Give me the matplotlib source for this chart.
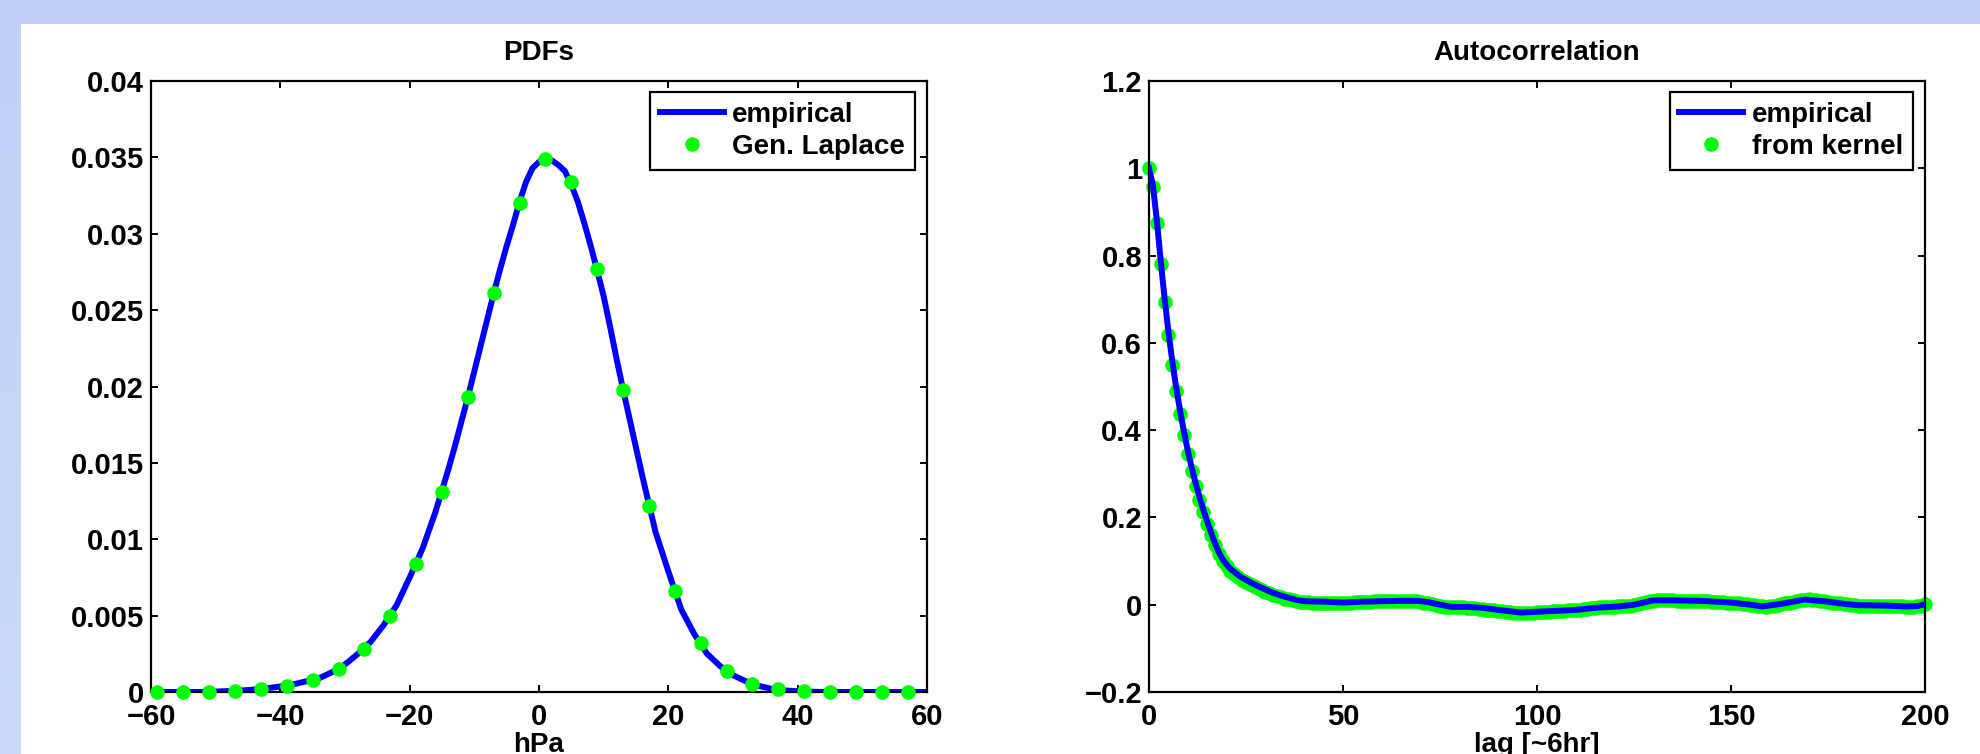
import numpy as np
import matplotlib
matplotlib.use("agg")
import matplotlib.pyplot as plt
from matplotlib.patches import Rectangle

plt.rcParams["font.family"] = ["Liberation Sans", "DejaVu Sans"]
plt.rcParams["font.weight"] = "bold"
plt.rcParams["axes.titleweight"] = "bold"
plt.rcParams["axes.labelweight"] = "bold"

# --- pressure-change PDF (hPa) ---
pdf_x = [
    -60, -58, -56, -54, -52, -50, -48, -46, -44, -42, -40, -38, -36, -34, -32,
    -30, -28, -26, -24, -22, -20, -18, -16, -14,
    -13, -12, -11, -10, -9, -8, -7, -6, -5, -4, -3, -2, -1, 0,
    1, 2, 3, 4, 5, 6, 7, 8, 9, 10, 11, 12, 13, 14, 15,
    16, 18, 20, 22, 24, 26, 28, 30, 32, 34, 36, 38, 40, 42, 44,
    46, 48, 50, 52, 54, 56, 58, 60,
]
pdf_empirical = [
    0.0, 0.0, 0.0, 0.0, 0.0, 0.00003, 0.00006, 0.0001, 0.00016, 0.00025,
    0.00036, 0.0005, 0.0007, 0.0009, 0.0013,
    0.0018, 0.0025, 0.0033, 0.0044, 0.0057, 0.0075, 0.0094, 0.0118, 0.0146,
    0.0161, 0.0177, 0.0193, 0.0210, 0.0227, 0.0244, 0.0261, 0.0277, 0.0292,
    0.0306, 0.0321, 0.0334, 0.0343, 0.0347,
    0.0349, 0.0348, 0.0345, 0.0341, 0.0332, 0.0321, 0.0307, 0.0292, 0.0276,
    0.0259, 0.0239, 0.0218, 0.0198, 0.0179, 0.0160,
    0.0141, 0.0105, 0.0079, 0.0054, 0.0038, 0.0025, 0.0017, 0.0011, 0.0007,
    0.0004, 0.0002, 0.0001, 0.00005, 0.00002, 0.0,
    0.0, 0.0, 0.0, 0.0, 0.0, 0.0, 0.0, 0.0,
]
laplace_x = np.arange(-59, 58, 4)
laplace_pdf = [
    0.0, 0.0, 0.0, 0.00007, 0.0002, 0.0004, 0.0008, 0.0015, 0.0028, 0.0050,
    0.00835, 0.0131, 0.0193, 0.0261, 0.0320, 0.0349, 0.0334, 0.0277, 0.0198, 0.0122,
    0.0066, 0.0032, 0.00135, 0.00054, 0.00022, 0.00006, 0.00002, 0.0, 0.0, 0.0,
]

# --- autocorrelation, lag in 6-hour steps ---
acf_lag = [
    0, 1, 2, 3, 4, 5, 6, 7, 8, 9, 10, 11, 12, 13, 14, 15, 16, 17, 18, 19, 20,
    21, 22, 23, 24, 26, 28, 30, 32, 34, 36, 38, 40, 45, 50, 55, 60, 65, 69, 72,
    75, 78, 82, 86, 90, 96, 100, 105, 110, 115, 121, 125, 130, 135, 142, 150,
    155, 158, 163, 169, 175, 180, 183, 190, 195, 198, 200,
]
acf_empirical = [
    1.000, 0.962, 0.882, 0.790, 0.703, 0.626, 0.558, 0.498, 0.445, 0.397, 0.353,
    0.314, 0.279, 0.247, 0.218, 0.191, 0.165, 0.141, 0.120, 0.104, 0.092,
    0.082, 0.075, 0.068, 0.062, 0.052, 0.043, 0.035, 0.027, 0.021, 0.016, 0.011,
    0.008, 0.007, 0.005, 0.007, 0.008, 0.009, 0.009, 0.006,
    0.000, -0.005, -0.005, -0.007, -0.012, -0.018, -0.016, -0.014, -0.012, -0.007,
    -0.004, 0.000, 0.010, 0.010, 0.009, 0.005,
    0.000, -0.004, 0.002, 0.012, 0.007, 0.001, -0.001, -0.002, -0.004, -0.003, 0.001,
]
kernel_lag = np.arange(0, 201)
acf_kernel = [
    1.000, 0.957, 0.875, 0.781, 0.694, 0.617, 0.550, 0.490, 0.437, 0.390,
    0.346, 0.307, 0.272, 0.241, 0.212, 0.185, 0.160, 0.137, 0.117, 0.101,
    0.088, 0.078, 0.070, 0.063, 0.057, 0.052, 0.047, 0.042, 0.038, 0.034,
    0.030, 0.026, 0.023, 0.020, 0.017, 0.014, 0.012, 0.010, 0.008, 0.007,
    0.006, 0.006, 0.005, 0.005, 0.005, 0.005, 0.004, 0.004, 0.004, 0.004,
    0.004, 0.005, 0.005, 0.006, 0.006, 0.007, 0.007, 0.007, 0.008, 0.008,
    0.008, 0.008, 0.009, 0.009, 0.009, 0.009, 0.009, 0.009, 0.009, 0.008,
    0.007, 0.005, 0.003, 0.001, -0.001, -0.003, -0.005, -0.006, -0.006, -0.006,
    -0.006, -0.006, -0.007, -0.007, -0.008, -0.009, -0.010, -0.011, -0.012, -0.013,
    -0.014, -0.015, -0.016, -0.017, -0.018, -0.019, -0.019, -0.019, -0.018, -0.018,
    -0.017, -0.017, -0.016, -0.016, -0.015, -0.015, -0.014, -0.014, -0.013, -0.013,
    -0.012, -0.011, -0.010, -0.009, -0.008, -0.007, -0.006, -0.006, -0.005, -0.005,
    -0.005, -0.004, -0.004, -0.003, -0.002, 0.000, 0.002, 0.004, 0.006, 0.008,
    0.009, 0.010, 0.010, 0.010, 0.010, 0.010, 0.009, 0.009, 0.009, 0.009,
    0.009, 0.009, 0.009, 0.008, 0.008, 0.007, 0.007, 0.006, 0.006, 0.005,
    0.005, 0.004, 0.003, 0.002, 0.001, 0.000, -0.001, -0.003, -0.004, -0.005,
    -0.004, -0.002, 0.000, 0.002, 0.004, 0.005, 0.007, 0.009, 0.010, 0.011,
    0.012, 0.011, 0.010, 0.009, 0.008, 0.007, 0.005, 0.004, 0.003, 0.002,
    0.001, 0.000, -0.001, -0.002, -0.002, -0.002, -0.002, -0.002, -0.002, -0.002,
    -0.002, -0.002, -0.003, -0.003, -0.004, -0.005, -0.005, -0.005, -0.004, -0.002,
    0.002,
]

pdf_yticks = [0, 0.005, 0.01, 0.015, 0.02, 0.025, 0.03, 0.035, 0.04]
pdf_ylabels = ["0", "0.005", "0.01", "0.015", "0.02", "0.025", "0.03", "0.035", "0.04"]
pdf_xticks = [-60, -40, -20, 0, 20, 40, 60]
acf_yticks = [-0.2, 0, 0.2, 0.4, 0.6, 0.8, 1, 1.2]
acf_ylabels = ["\u22120.2", "0", "0.2", "0.4", "0.6", "0.8", "1", "1.2"]
acf_xticks = [0, 50, 100, 150, 200]

BLUE = "#0000ff"
GREEN = "#00ff00"
FS = 20
TICK_FS = 21

fig = plt.figure(figsize=(19.8, 7.54), dpi=100, facecolor="white")

# light blue frame along the top and left edges
fig.add_artist(Rectangle((0, 1 - 24 / 754), 1, 24 / 754, transform=fig.transFigure,
                         facecolor="#bed0f7", edgecolor="none", zorder=-10))
strip = fig.add_axes([0, 0, 21 / 1980, 1 - 24 / 754], zorder=-10)
strip.imshow(np.linspace(0, 1, 64)[:, None], cmap=matplotlib.colors.LinearSegmentedColormap.from_list(
    "edge", ["#bed0f7", "#cadaf6"]), aspect="auto", extent=(0, 1, 0, 1))
strip.set_axis_off()

ax1 = fig.add_axes([151 / 1980, 62 / 754, 776 / 1980, 611 / 754])
ax2 = fig.add_axes([1149 / 1980, 62 / 754, 776 / 1980, 611 / 754])


def style_axes(ax):
    for sp in ax.spines.values():
        sp.set_linewidth(1.6)
    ax.tick_params(direction="in", length=5, width=1.4, top=True, right=True,
                   labelsize=TICK_FS, pad=5)
    ax.tick_params(axis="x", pad=8)


# PDFs
ax1.plot(pdf_x, pdf_empirical, color=BLUE, lw=4.3, solid_joinstyle="round",
         label="empirical", zorder=2)
ax1.plot(laplace_x, laplace_pdf, "o", color=GREEN, ms=10.5, mec="none",
         label="Gen. Laplace", zorder=3, clip_on=False)
ax1.set_xlim(-60, 60)
ax1.set_ylim(0, 0.04)
ax1.set_xticks(pdf_xticks)
ax1.set_yticks(pdf_yticks)
ax1.set_yticklabels(pdf_ylabels)
ax1.set_title("PDFs", fontsize=FS, pad=15)
ax1.set_xlabel("hPa", fontsize=FS, labelpad=1)
style_axes(ax1)

# Autocorrelation
ax2.plot(kernel_lag, acf_kernel, "o", color=GREEN, ms=10.5, mec="none",
         label="from kernel", zorder=2, clip_on=False)
ax2.plot(acf_lag, acf_empirical, color=BLUE, lw=4.3, solid_joinstyle="round",
         label="empirical", zorder=3)
ax2.set_xlim(0, 200)
ax2.set_ylim(-0.2, 1.2)
ax2.set_xticks(acf_xticks)
ax2.set_yticks(acf_yticks)
ax2.set_yticklabels(acf_ylabels)
ax2.set_title("Autocorrelation", fontsize=FS, pad=15)
ax2.set_xlabel("lag [~6hr]", fontsize=FS, labelpad=1)
style_axes(ax2)

for ax in (ax1, ax2):
    h, l = ax.get_legend_handles_labels()
    order = [l.index("empirical"), 1 - l.index("empirical")]
    leg = ax.legend([h[i] for i in order], [l[i] for i in order],
                    loc="upper right", bbox_to_anchor=(0.984, 0.982),
                    borderaxespad=0, fontsize=FS, frameon=True, fancybox=False,
                    edgecolor="black", handlelength=2.3, handletextpad=0.3,
                    borderpad=0.35, labelspacing=0.22, markerscale=1.0)
    leg.get_frame().set_linewidth(1.6)
    leg.get_frame().set_alpha(1)

fig.savefig("out.png", dpi=100, facecolor="white")
